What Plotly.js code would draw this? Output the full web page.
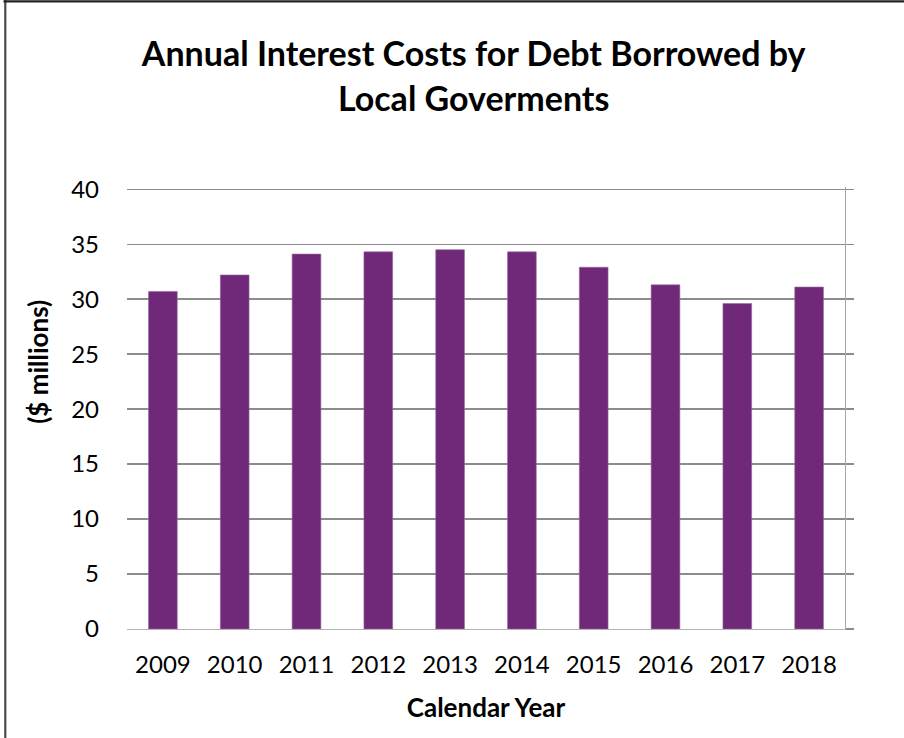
<!DOCTYPE html>
<html>
<head>
<meta charset="utf-8">
<script src="https://cdn.plot.ly/plotly-3.0.1.min.js"></script>
<style>
html,body{margin:0;padding:0;background:#fff;}
#chart{width:904px;height:738px;}
</style>
</head>
<body>
<div id="chart"></div>
<script>
var years = ['2009','2010','2011','2012','2013','2014','2015','2016','2017','2018'];
var interestCosts = [30.7, 32.2, 34.1, 34.3, 34.5, 34.3, 32.9, 31.3, 29.6, 31.1];
var yTicks = [0, 5, 10, 15, 20, 25, 30, 35, 40];

var FONT = 'Lato, "Open Sans", "DejaVu Sans", sans-serif';

var data = [{
  type: 'bar',
  x: years,
  y: interestCosts,
  marker: {color: '#702878', line: {color: '#9a6aa0', width: 0.6}},
  hoverinfo: 'x+y'
}, {
  type: 'scatter',
  x: [],
  y: [],
  yaxis: 'y2',
  hoverinfo: 'skip',
  showlegend: false
}];

var layout = {
  width: 904,
  height: 738,
  paper_bgcolor: '#ffffff',
  plot_bgcolor: '#ffffff',
  margin: {l: 127, r: 59, t: 187, b: 109, pad: 0},
  showlegend: false,
  bargap: 0.6,
  font: {family: FONT, color: '#000000'},
  title: {
    text: '<b>Annual Interest Costs for Debt Borrowed by<br>Local Goverments</b>',
    font: {family: FONT, size: 34, color: '#000000'},
    x: 0.524, xanchor: 'center',
    y: 0.91, yanchor: 'middle'
  },
  xaxis: {
    type: 'category',
    showgrid: false,
    showline: true,
    linecolor: '#b3b3b3',
    linewidth: 1.3,
    ticks: '',
    ticklabelstandoff: 14,
    tickfont: {family: FONT, size: 24, color: '#000000'},
    title: {text: '<b>Calendar Year</b>', font: {family: FONT, size: 26, color: '#000000'}, standoff: 21},
    zeroline: false
  },
  yaxis: {
    range: [0, 40.2],
    tickvals: yTicks,
    showgrid: true,
    gridcolor: '#8c8c8c',
    gridwidth: 1.3,
    showline: false,
    zeroline: false,
    ticks: '',
    ticklabelstandoff: 27,
    tickfont: {family: FONT, size: 24, color: '#000000'}
  },
  yaxis2: {
    overlaying: 'y',
    side: 'right',
    range: [0, 40.2],
    tickvals: yTicks,
    showgrid: false,
    showline: true,
    linecolor: '#a6a6a6',
    linewidth: 1.3,
    ticks: 'outside',
    ticklen: 8,
    tickwidth: 1.3,
    tickcolor: '#8c8c8c',
    showticklabels: false,
    zeroline: false
  },
  annotations: [{
    text: '<b>($ millions)</b>',
    xref: 'paper', yref: 'paper',
    x: -0.125, y: 0.605,
    xanchor: 'center', yanchor: 'middle',
    textangle: -90,
    showarrow: false,
    font: {family: FONT, size: 26, color: '#000000'}
  }],
  shapes: [
    {type: 'line', xref: 'paper', yref: 'paper', x0: -0.1695, x1: -0.1695, y0: 1.43, y1: -0.3, line: {color: '#4a4a4a', width: 2.2}},
    {type: 'line', xref: 'paper', yref: 'paper', x0: -0.172, x1: 1.2, y0: 1.42, y1: 1.42, line: {color: '#222222', width: 2.2}}
  ]
};

Plotly.newPlot('chart', data, layout, {displayModeBar: false, staticPlot: true});
</script>
</body>
</html>
